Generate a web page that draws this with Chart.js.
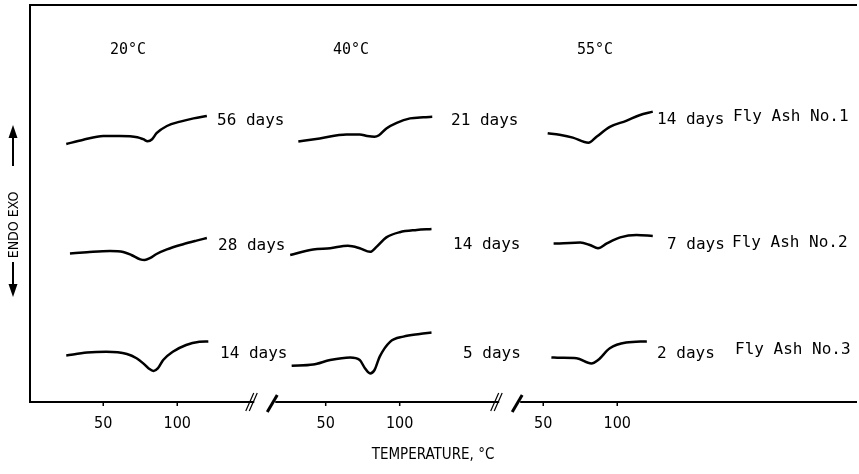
<!DOCTYPE html>
<html lang="en">
<head>
<meta charset="UTF-8">
<title>DTA curves of fly ash pastes</title>
<script src="https://cdn.jsdelivr.net/npm/chart.js"></script>
<style>
    html, body { margin: 0; padding: 0; background: #fff; }
    #wrap { width: 859px; height: 474px; }
</style>
</head>
<body>
<div id="wrap"><canvas id="dta" width="859" height="474"></canvas></div>
<script>
// curing temperatures (one panel each) and fly ashes (one row each)
const panelTitles = ['20°C', '40°C', '55°C'];
const ashNames = ['Fly Ash No.1', 'Fly Ash No.2', 'Fly Ash No.3'];
// curing age shown next to each curve: [ash][panel]
const ageLabels = [
    ['56 days', '21 days', '14 days'],
    ['28 days', '14 days', '7 days'],
    ['14 days', '5 days', '2 days']
];
const xTicks = [50, 100];

// heating temperature (°C) and DTA signal (arbitrary units, exo up)
const ash1At20T = [25, 36, 50, 61, 73, 77, 80, 83, 86, 93, 102, 111, 120];
const ash1At20S = [0, 1, 2, 2, 1.7, 1.2, 0.7, 1.2, 2.7, 4.5, 5.6, 6.4, 7.0];
const ash1At40T = [31.5, 46, 64, 73, 78, 83, 86, 91, 98, 107, 116, 122];
const ash1At40S = [0.6, 1.4, 2.4, 2.4, 2.0, 1.8, 2.2, 3.9, 5.3, 6.4, 6.7, 6.8];
const ash1At55T = [53, 61, 70, 80.5, 86, 95, 106, 115, 124];
const ash1At55S = [2.7, 2.3, 1.6, 0.3, 1.8, 4.3, 5.8, 7.2, 8.1];

const ash2At20T = [27.5, 39, 54.5, 63.5, 69, 75, 78, 81.5, 86, 93, 104, 113, 120];
const ash2At20S = [0.4, 0.7, 1.0, 0.75, 0, -1.1, -1.25, -0.8, 0.25, 1.4, 2.7, 3.6, 4.25];
const ash2At40T = [26, 41.5, 53, 65, 73, 80, 84.5, 91, 100, 111.5, 121.5];
const ash2At40S = [0, 1.4, 1.7, 2.3, 1.7, 0.8, 2.1, 4.4, 5.7, 6.25, 6.5];
const ash2At55T = [57, 61, 75, 81.5, 87, 93, 102, 113, 124];
const ash2At55S = [2.9, 2.9, 3.1, 2.5, 1.7, 2.9, 4.4, 5.0, 4.75];

const ash3At20T = [25, 39, 52, 66, 72.5, 77, 80.5, 84, 87, 90.5, 97, 106, 115, 121];
const ash3At20S = [2.4, 3.1, 3.3, 2.75, 1.7, 0.4, -0.8, -1.5, -0.8, 1.25, 3.3, 5.0, 5.8, 5.9];
const ash3At40T = [27, 41.5, 53, 66.5, 73, 76.5, 80, 83, 86.5, 93.5, 102.5, 113.5, 121.5];
const ash3At40S = [-0.2, 0.1, 1.25, 1.9, 1.25, -0.8, -2.1, -1.25, 2.1, 5.8, 7.1, 7.75, 8.1];
const ash3At55T = [55.5, 61, 72.5, 82.5, 87, 95, 106, 120];
const ash3At55S = [1.9, 1.8, 1.7, 0.4, 1.25, 4.2, 5.6, 5.9];

const curves = [
    [[ash1At20T, ash1At20S], [ash1At40T, ash1At40S], [ash1At55T, ash1At55S]],
    [[ash2At20T, ash2At20S], [ash2At40T, ash2At40S], [ash2At55T, ash2At55S]],
    [[ash3At20T, ash3At20S], [ash3At40T, ash3At40S], [ash3At55T, ash3At55S]]
];

// layout: where each panel starts on the shared axis, where each row sits
const panelShift = [0, 150.3, 297.3];
const rowBase = [64.5, 36.75, 9.25];
const breaks = [150, 315.5];

const datasets = [];
curves.forEach((row, r) => {
    row.forEach(([temps, sig], p) => {
        datasets.push({
            label: ashNames[r] + ' ' + panelTitles[p],
            data: temps.map((t, i) => ({ x: t + panelShift[p], y: sig[i] + rowBase[r] })),
            borderColor: '#000',
            borderWidth: 2.5,
            pointRadius: 0,
            fill: false,
            cubicInterpolationMode: 'monotone'
        });
    });
});

const tickValues = [];
const tickText = [];
panelShift.forEach(s => xTicks.forEach(t => { tickValues.push(t + s); tickText.push(String(t)); }));

const MONO = '"DejaVu Sans Mono", monospace';
const COND = '"DejaVu Sans Condensed", "DejaVu Sans", sans-serif';

const decor = {
    id: 'decor',
    afterDraw(chart) {
        const { ctx, chartArea: a, scales: { x } } = chart;
        ctx.save();
        ctx.strokeStyle = '#000';
        ctx.fillStyle = '#000';
        ctx.lineCap = 'butt';

        const seg = (x1, y1, x2, y2, w) => {
            ctx.lineWidth = w;
            ctx.beginPath();
            ctx.moveTo(x1, y1);
            ctx.lineTo(x2, y2);
            ctx.stroke();
        };

        // frame: top and left
        seg(a.left, a.top, a.right, a.top, 2);
        seg(a.left, a.top - 1, a.left, a.bottom + 1, 2);

        // broken x axis
        const bx = breaks.map(b => x.getPixelForValue(b));
        let from = a.left;
        bx.forEach(c => {
            seg(from, a.bottom, c + 3, a.bottom, 2);
            seg(c - 5.5, a.bottom + 9, c + 2.5, a.bottom - 9, 1.2);
            seg(c - 2, a.bottom + 9, c + 6, a.bottom - 9, 1.2);
            seg(c + 16, a.bottom + 10, c + 26, a.bottom - 7, 3);
            from = c + 24;
        });
        seg(from, a.bottom, a.right, a.bottom, 2);

        // tick marks
        tickValues.forEach(v => {
            const px = x.getPixelForValue(v);
            seg(px, a.bottom, px, a.bottom + 4, 1.5);
        });

        // panel headings
        ctx.textBaseline = 'middle';
        ctx.textAlign = 'left';
        ctx.font = '15px ' + MONO;
        const headX = [110, 333, 577];
        panelTitles.forEach((t, p) => ctx.fillText(t, headX[p], 50));

        // curing ages and fly ash names
        ctx.font = '16px ' + MONO;
        const ageX = [[217, 451, 657], [218, 453, 667], [220, 463, 657]];
        const ageY = [[121, 121, 120], [246, 245, 245], [354, 354, 354]];
        ageLabels.forEach((row, r) => row.forEach((t, p) => ctx.fillText(t, ageX[r][p], ageY[r][p])));
        const ashX = [733, 732, 735];
        const ashY = [117, 243, 350];
        ashNames.forEach((t, r) => ctx.fillText(t, ashX[r], ashY[r]));

        // ENDO / EXO label with arrows
        ctx.save();
        ctx.translate(13, 225);
        ctx.rotate(-Math.PI / 2);
        ctx.textAlign = 'center';
        ctx.font = '14px ' + COND;
        ctx.fillText('ENDO EXO', 0, 1);
        ctx.restore();
        seg(13, 166, 13, 134, 2);
        ctx.beginPath();
        ctx.moveTo(13, 125); ctx.lineTo(8.5, 138); ctx.lineTo(17.5, 138); ctx.closePath(); ctx.fill();
        seg(13, 262, 13, 288, 2);
        ctx.beginPath();
        ctx.moveTo(13, 297); ctx.lineTo(8.5, 284); ctx.lineTo(17.5, 284); ctx.closePath(); ctx.fill();

        // x axis title
        ctx.textAlign = 'center';
        ctx.font = '15px ' + COND;
        ctx.fillText('TEMPERATURE, °C', 433, 455);
        ctx.restore();
    }
};

new Chart(document.getElementById('dta'), {
    type: 'line',
    data: { datasets },
    options: {
        responsive: false,
        animation: false,
        devicePixelRatio: 1,
        layout: { padding: { left: 30, right: 2, top: 5, bottom: 0 } },
        plugins: { legend: { display: false }, tooltip: { enabled: false } },
        scales: {
            x: {
                type: 'linear',
                min: 0.5,
                max: 559.3,
                grid: { display: false },
                border: { display: false },
                afterBuildTicks: s => { s.ticks = tickValues.map(v => ({ value: v })); },
                afterFit: s => { s.height = 72; },
                ticks: {
                    autoSkip: false,
                    maxRotation: 0,
                    padding: 4,
                    color: '#000',
                    font: { family: COND, size: 16 },
                    callback: (v, i) => tickText[i]
                }
            },
            y: {
                display: false,
                min: 0,
                max: 99.25
            }
        }
    },
    plugins: [decor]
});
</script>
</body>
</html>
